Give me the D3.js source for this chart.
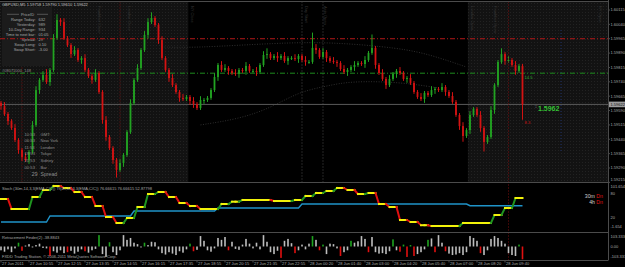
<!DOCTYPE html>
<html>
<head>
<meta charset="utf-8">
<script src="https://cdn.jsdelivr.net/npm/d3@7"></script>
<style>
  html, body { margin: 0; padding: 0; background: #000; }
  svg { display: block; }
  text { font-family: "Liberation Sans", Arial, sans-serif; }
</style>
</head>
<body>
<svg id="chart"></svg>
<script>
// ---- data (prices in pips above 1.5900, one bar per slot) ----
const titleText = "GBPUSD,M5  1.59758 1.59790 1.59610 1.59622";
const firstOpen = 63.0;
const closes = [
  61.4, 57.2, 53.5, 49.9, 43.6, 38.4, 34.7, 33.2, 37.4, 51.5,
  69.7, 75.0, 77.6, 73.9, 80.2, 96.9, 106.3, 105.2, 96.9, 93.2,
  88.5, 90.6, 85.4, 86.4, 80.2, 77.0, 75.0, 78.6, 68.7, 54.1,
  45.2, 39.4, 33.2, 28.0, 31.6, 35.8, 47.8, 62.9, 75.0, 81.2,
  90.6, 98.5, 105.2, 107.3, 103.7, 95.8, 86.4, 80.2, 76.0, 72.3,
  68.7, 65.6, 65.0, 66.1, 64.0, 62.4, 60.3, 64.5, 64.5, 65.6,
  69.7, 76.5, 82.8, 80.2, 81.2, 79.7, 78.6, 78.1, 80.2, 79.7,
  82.3, 79.7, 79.7, 79.1, 82.8, 88.0, 88.5, 86.4, 87.5, 86.4,
  87.5, 84.9, 86.4, 86.4, 85.9, 87.5, 85.4, 84.4, 84.4, 91.7,
  90.6, 87.0, 89.6, 86.4, 84.9, 84.4, 83.8, 80.7, 79.1, 80.2,
  81.7, 82.8, 83.8, 83.3, 85.4, 89.1, 91.7, 82.8, 78.6, 75.5,
  72.3, 75.5, 78.1, 79.7, 78.6, 75.5, 76.0, 73.4, 68.7, 66.1,
  65.0, 68.2, 67.1, 69.7, 70.3, 69.7, 71.3, 68.7, 66.6, 63.5,
  56.7, 50.9, 45.7, 48.8, 56.7, 59.8, 56.7, 49.9, 42.6, 45.2,
  59.3, 72.3, 84.4, 88.5, 84.9, 85.4, 82.8, 79.7, 82.3, 62.2
];
const wickUp = [
  1,2,1,1,2,1,1,2,1,2, 2,1,2,3,1,2,3,1,2,1, 1,2,1,1,2,1,1,2,1,1,
  2,1,1,1,2,1,1,2,1,2, 1,2,2,3,1,1,2,1,1,2, 1,1,2,1,1,2,1,2,1,1,
  1,2,1,2,2,1,1,2,1,1, 2,1,1,2,1,2,3,1,1,2, 1,2,1,1,2,1,1,2,1,8,
  2,1,2,1,1,2,1,1,2,1, 1,2,1,1,2,1,7,1,1,2, 1,2,1,1,2,1,1,2,1,1,
  2,1,1,2,1,1,2,1,1,2, 1,1,2,1,2,1,1,2,1,1, 2,1,1,3,1,2,1,2,1,1
];
const wickDn = [
  2,1,2,1,1,2,2,1,2,1, 1,2,1,1,2,1,1,2,1,1, 2,1,1,2,1,1,2,1,1,2,
  2,1,2,4,1,2,1,1,1,1, 1,1,2,1,1,2,1,1,2,1, 1,2,1,1,2,2,1,1,2,1,
  1,1,2,1,1,2,1,1,2,1, 2,1,1,2,1,1,2,1,1,2, 1,1,2,1,1,2,1,2,1,1,
  2,1,1,2,1,1,2,1,1,2, 1,2,1,1,2,1,1,2,1,1, 2,1,1,2,1,1,2,1,1,1,
  1,2,1,1,2,1,1,2,1,1, 1,2,3,1,2,1,1,2,5,1, 1,2,1,1,2,1,1,2,1,8
];

// horizontal levels
const resistance = 1.59965;
const pivotLevel = 1.59785;
const lastPrice = 1.59622;
const priceTicks = [1.60115, 1.60040, 1.59965, 1.59890, 1.59815, 1.59740, 1.59665,
                    1.59590, 1.59515, 1.59440, 1.59365, 1.59290, 1.59215];

// faint envelope curves [bar, pips]
const envUpper = [[46, 92.2], [55, 91.7], [79, 94.3], [94, 94.8], [114, 91.7], [123, 88.0], [133, 81.7]];
const envLower = [[57, 51.5], [68, 54.6], [77, 60.3], [85, 68.7], [93, 71.8], [100, 74.4], [114, 73.9], [125, 70.8]];

// session shading (bar ranges) and markers (bar index)
const sessions = [[-0.3, 53.5], [133.4, 173.5]];
const redMarks = [6, 34, 145];
const grayMarks = [86, 92];
const blueMarks = [160];
const sessionNames = [[27.4, "Frankfurt Close"], [36, "London Close"], [54, "NY Close"],
                      [86.3, "Day Start"], [92, "Asia Open"], [134, "London Open"],
                      [140.3, "Frankfurt Open"], [170.3, "NY Open"]];

// info panel
const infoLabels = ["Range  Today:", "Yesterday:", "10-Day Range:", "Time to next bar:", "Spread:", "Swap  Long:", "Swap  Short:"];
const infoValues = ["632", "989", "934", "01:05", "29", "0.10", "-3.00"];
const clockTimes = ["10:53", "06:53", "11:53", "19:53", "20:53", "00:53"];
const clockNames = ["GMT:", "New York", "London", "Tokyo", "Sidney", "Bar"];

// stochastic: 30m values (one per 3 bars), 4h values [value, bars]
const stoch30 = [67.5, 42.5, 42.5, 72.5, 90, 100, 95, 85, 72.5, 50,
                 22.5, 7.5, 20, 47.5, 80, 85, 72.5, 57.5, 50, 42.5,
                 42.5, 55, 60.75, 65, 65, 65, 62.5, 62.5, 65, 75,
                 82.5, 87.5, 95, 90, 80, 82.5, 55, 47.5, 15, 10,
                 2, 0, 0, 0, 7.5, 7.5, 7.5, 27.5, 45, 70];
const stoch4h = [[10, 14], [25, 24], [37.5, 24], [45, 24], [55, 48], [50.75, 16]];
const stochTicks = [["101.654", 101.654], ["80", 80], ["20", 20], ["-1.654", -1.654]];

// retracement histogram
const histValues = [
  -40, -55, -30, -60, -20, 40, -45, 10, 25, -10,
  15, 30, -15, -20, -100, -50, -65, -40, -70, -60,
  -45, -75, -55, -30, -50, -65, -40, -25, 120, -80,
  -110, 45, -60, -90, -40, 120, 70, 90, 40, 25,
  -10, 40, 15, 50, 45, -30, -70, -85, -60, -75,
  -90, -50, -65, -30, 30, -50, -35, 110, 60, -40,
  -55, -20, 90, 70, 100, -40, 50, -25, -35, 20,
  80, 30, -20, 40, -30, 120, 50, -60, -80, -45,
  -120, 60, 80, 35, -70, -40, 20, -30, 30, 110,
  70, -40, 20, -80, 30, 25, -20, -100, -60, -40,
  60, 40, 55, 110, 80, -60, 100, -60, -75, -70,
  -80, -50, 75, -40, -55, 20, -110, 15, -100, -80,
  -60, -30, 70, 85, -60, 120, 40, -50, -75, -90,
  -85, -70, -90, -60, 110, 90, 60, -70, -90, -40,
  80, 110, 90, 60, 30, -70, -90, -100, 20, -135
];
const histColors =
  ".....gr..." + "....r....r" + "....r...g." + ".g........" + ".g........" +
  "....gr...." + ".....r...." + ".........." + "r...r....g" + ".rg....r.." +
  "g....r...." + "..g.rgrgr." + "..g.r..r.." + ".......r.." + "........gr";
const histTicks = [["103.333", 103.333], ["0.00", 0], ["-103.333", -103.333]];

// time axis
const timeLabels = ["27 Jun 2011", "27 Jun 10:55", "27 Jun 12:15", "27 Jun 13:35", "27 Jun 14:55",
  "27 Jun 16:15", "27 Jun 17:35", "27 Jun 18:55", "27 Jun 20:15", "27 Jun 21:35", "27 Jun 22:55",
  "28 Jun 00:20", "28 Jun 01:40", "28 Jun 03:00", "28 Jun 04:20", "28 Jun 05:40", "28 Jun 07:00",
  "28 Jun 08:20", "28 Jun 09:40"];
const barsPerLabel = 8;

// ---- drawing ----
const W = 625, H = 267, axisX = 608;
const mainTop = 1.5, mainBottom = 182.5, stochTop = 183.5, stochBottom = 232.5, histBottom = 260.5;
const gridColor = "#4b4b4b", textColor = "#a8a8a8";
const upColor = "#22a322", downColor = "#d41313";

const svg = d3.select("#chart").attr("width", W).attr("height", H);
svg.append("rect").attr("width", W).attr("height", H).attr("fill", "#000");

const defs = svg.append("defs");
const pat = defs.append("pattern").attr("id", "dots").attr("width", 3).attr("height", 3)
  .attr("patternUnits", "userSpaceOnUse");
pat.append("rect").attr("width", 3).attr("height", 3).attr("fill", "#121212");
pat.append("rect").attr("width", 1).attr("height", 1).attr("fill", "#222");
defs.append("clipPath").attr("id", "clipMain").append("rect")
  .attr("x", 0).attr("y", mainTop).attr("width", axisX).attr("height", mainBottom - mainTop);

const nBars = closes.length;
const x = d3.scaleLinear().domain([0, 173.43]).range([1, axisX]);
const toPrice = p => 1.59 + p / 10000;
const y = d3.scaleLinear().domain([1.59290, 1.60115]).range([168, 10]);
const yS = d3.scaleLinear().domain([20, 80]).range([218, 194]);
const yH = d3.scaleLinear().domain([0, 103.333]).range([246.5, 236.7]);

const main = svg.append("g").attr("clip-path", "url(#clipMain)");

// session shading
main.selectAll("rect.session").data(sessions).join("rect")
  .attr("x", d => x(d[0])).attr("y", mainTop)
  .attr("width", d => x(d[1]) - x(d[0])).attr("height", mainBottom - mainTop)
  .attr("fill", "url(#dots)");

// faint rotated session names
main.selectAll("text.sess").data(sessionNames).join("text")
  .attr("transform", d => `translate(${x(d[0]) + 1.5},${6}) rotate(90)`)
  .attr("font-size", 4).attr("fill", "#343434").text(d => d[1]);

// vertical markers
main.selectAll("line.gm").data(grayMarks).join("line")
  .attr("x1", d => x(d)).attr("x2", d => x(d)).attr("y1", mainTop).attr("y2", mainBottom)
  .attr("stroke", "#4a4a4a").attr("stroke-dasharray", "1,2");
main.selectAll("line.rm").data(redMarks.slice(0, 2)).join("line")
  .attr("x1", d => x(d)).attr("x2", d => x(d)).attr("y1", mainTop).attr("y2", mainBottom)
  .attr("stroke", "#7a1010").attr("stroke-dasharray", "1,2");
main.selectAll("line.bm").data(blueMarks).join("line")
  .attr("x1", d => x(d)).attr("x2", d => x(d)).attr("y1", 30).attr("y2", 152)
  .attr("stroke", "#1c2f66").attr("stroke-dasharray", "1,2");

// envelope curves
const envLine = d3.line().x(d => x(d[0])).y(d => y(toPrice(d[1]))).curve(d3.curveBasis);
[envUpper, envLower].forEach(env => {
  main.append("path").attr("d", envLine(env)).attr("fill", "none")
    .attr("stroke", "#2e2e2e").attr("stroke-dasharray", "1,1.5");
});

// info box
main.append("rect").attr("x", 2).attr("y", 7).attr("width", 50).attr("height", 59).attr("fill", "#1b1b1b");
main.append("text").attr("x", 27.5).attr("y", 15.5).attr("text-anchor", "middle")
  .attr("font-size", 4).attr("fill", textColor).text("PriceID");
[[7, 19], [37, 48]].forEach(s => main.append("line").attr("x1", s[0]).attr("x2", s[1])
  .attr("y1", 14.3).attr("y2", 14.3).attr("stroke", "#8a8a8a").attr("stroke-width", 0.5));
infoLabels.forEach((t, i) => {
  const yy = 20.8 + i * 5.05;
  main.append("text").attr("x", 35.5).attr("y", yy).attr("text-anchor", "end")
    .attr("font-size", 4).attr("fill", textColor).text(t);
  main.append("text").attr("x", 38.5).attr("y", yy)
    .attr("font-size", 4).attr("fill", textColor).text(infoValues[i]);
});

// horizontal levels
main.append("line").attr("x1", 0).attr("x2", axisX).attr("y1", y(resistance)).attr("y2", y(resistance))
  .attr("stroke", "#b01818").attr("stroke-dasharray", "5,2,1,2");
main.append("line").attr("x1", 0).attr("x2", axisX).attr("y1", y(pivotLevel)).attr("y2", y(pivotLevel))
  .attr("stroke", "#1d8a1d").attr("stroke-dasharray", "5,2,1,2");
main.append("text").attr("x", 2).attr("y", y(pivotLevel) - 1.5).attr("font-size", 4)
  .attr("fill", "#8a8a8a").text("#08071000_148");
main.append("line").attr("x1", 0).attr("x2", axisX).attr("y1", y(lastPrice)).attr("y2", y(lastPrice))
  .attr("stroke", "#5a5a5a").attr("stroke-width", 1);

// candles
const candles = closes.map((c, i) => {
  const o = i === 0 ? firstOpen : closes[i - 1];
  return { i, o, c, h: Math.max(o, c) + wickUp[i], l: Math.min(o, c) - wickDn[i] };
});
const cg = main.selectAll("g.candle").data(candles).join("g");
cg.append("line")
  .attr("x1", d => x(d.i)).attr("x2", d => x(d.i))
  .attr("y1", d => y(toPrice(d.h))).attr("y2", d => y(toPrice(d.l)))
  .attr("stroke", d => d.c >= d.o ? upColor : downColor).attr("stroke-width", 1);
cg.append("rect")
  .attr("x", d => x(d.i) - 0.9).attr("width", 1.8)
  .attr("y", d => y(toPrice(Math.max(d.o, d.c))))
  .attr("height", d => Math.max(1, y(toPrice(Math.min(d.o, d.c))) - y(toPrice(Math.max(d.o, d.c)))))
  .attr("fill", d => d.c >= d.o ? upColor : downColor);

// right side labels in the chart
main.append("text").attr("x", x(nBars - 1) + 2).attr("y", y(toPrice(76.0)) + 1.5)
  .attr("font-size", 4.2).attr("fill", "#2fa82f").text("14.5");
main.append("text").attr("x", x(nBars - 1) + 2).attr("y", y(toPrice(53.0)) + 1.5)
  .attr("font-size", 4.2).attr("fill", "#c81414").text("8.3");
main.append("text").attr("x", 538).attr("y", y(lastPrice) + 6.5)
  .attr("font-size", 7).attr("font-weight", "bold").attr("fill", "#35c035").text("1.5962");
main.append("text").attr("x", 535).attr("y", y(lastPrice) + 4)
  .attr("font-size", 3.5).attr("fill", "#777").text("‡");

// session clock
clockTimes.forEach((t, i) => {
  const yy = 135.5 + i * 6.65;
  main.append("text").attr("x", 24.5).attr("y", yy).attr("font-size", 4.2).attr("fill", "#8c8c8c").text(t);
  main.append("text").attr("x", 40.5).attr("y", yy).attr("font-size", 4.2).attr("fill", "#8c8c8c").text(clockNames[i]);
});
main.append("text").attr("x", 31.5).attr("y", 176.2).attr("font-size", 5.6).attr("fill", "#8c8c8c").text("29");
main.append("text").attr("x", 40.5).attr("y", 176.2).attr("font-size", 5.2).attr("fill", "#8c8c8c").text("Spread");

// red marker through all panels
svg.selectAll("line.rmAll").data(redMarks.slice(2)).join("line")
  .attr("x1", d => x(d)).attr("x2", d => x(d)).attr("y1", mainTop).attr("y2", histBottom)
  .attr("stroke", "#7a1010").attr("stroke-dasharray", "1,2");

// title
svg.append("text").attr("x", 2).attr("y", 6).attr("font-size", 4).attr("fill", "#c8c8c8").text(titleText);

// ---- stochastic panel ----
const st30 = d3.range(nBars).map(i => stoch30[Math.floor(i / 3)]);
const st4h = stoch4h.flatMap(d => d3.range(d[1]).map(() => d[0]));
svg.append("path")
  .attr("d", d3.line().x((d, i) => x(i)).y(d => yS(d))(st4h))
  .attr("fill", "none").attr("stroke", "#1f93c8").attr("stroke-width", 1.4);
const segs = d3.range(1, nBars).map(i => ({ i, a: st30[i - 1], b: st30[i] }));
svg.selectAll("line.st").data(segs).join("line")
  .attr("x1", d => x(d.i - 1)).attr("x2", d => x(d.i))
  .attr("y1", d => yS(d.a)).attr("y2", d => yS(d.b))
  .attr("stroke", d => d.b > d.a ? "#1f951f" : d.b < d.a ? "#e01010" : "#f2f20a")
  .attr("stroke-width", 2).attr("stroke-linecap", "square");
svg.append("text").attr("x", 2).attr("y", 190).attr("font-size", 4).attr("fill", textColor)
  .text("Stoch (30m,14,3,3(EMA,C/C)) Tf(4h,14,3,3(EMA,C/C)) 76.66615 76.66615 52.87798");
const dirText = svg.append("g").attr("font-size", 5.2).attr("text-anchor", "end");
[["30m", 198], ["4h", 204]].forEach(d => {
  const t = dirText.append("text").attr("x", 603).attr("y", d[1]);
  t.append("tspan").attr("fill", "#d0d0d0").text(d[0] + " ");
  t.append("tspan").attr("fill", "#e01010").text("Dn");
});

// ---- histogram panel ----
svg.selectAll("rect.hist").data(histValues).join("rect")
  .attr("x", (d, i) => x(i) - 0.8).attr("width", 1.6)
  .attr("y", d => Math.min(yH(d), yH(0))).attr("height", d => Math.abs(yH(d) - yH(0)))
  .attr("fill", (d, i) => histColors[i] === "g" ? "#1fa31f" : histColors[i] === "r" ? "#e01010" : "#bdbdbd");
svg.append("text").attr("x", 2).attr("y", 238.5).attr("font-size", 4).attr("fill", textColor)
  .text("Retracement Finder(2) -38.8843");
svg.append("text").attr("x", 2).attr("y", 257.5).attr("font-size", 4).attr("fill", textColor)
  .text("FXDD Trading Station, © 2006-2011 MetaQuotes Software Corp.");

// ---- frame and axes ----
const frame = svg.append("g").attr("stroke", gridColor).attr("stroke-width", 1);
[mainTop, mainBottom, stochBottom, histBottom].forEach(v =>
  frame.append("line").attr("x1", 0).attr("x2", axisX).attr("y1", v).attr("y2", v));
frame.append("line").attr("x1", axisX + 0.5).attr("x2", axisX + 0.5).attr("y1", 0).attr("y2", histBottom);

// labels are kept inside their own panel
const axisLabels = svg.append("g").attr("font-size", 4).attr("fill", textColor);
priceTicks.forEach(p => {
  axisLabels.append("text").attr("x", 610.5).attr("y", Math.min(y(p), mainBottom - 2.6))
    .attr("dy", "0.35em").text(p.toFixed(5));
  frame.append("line").attr("x1", axisX).attr("x2", axisX + 2).attr("y1", y(p)).attr("y2", y(p));
});
svg.append("rect").attr("x", 609).attr("y", y(lastPrice) - 2.8).attr("width", 16).attr("height", 5.6).attr("fill", "#9c9c9c");
svg.append("text").attr("x", 610.5).attr("y", y(lastPrice)).attr("dy", "0.35em")
  .attr("font-size", 4).attr("fill", "#111").text(lastPrice.toFixed(5));
stochTicks.forEach(d => axisLabels.append("text").attr("x", 610.5)
  .attr("y", Math.max(yS(d[1]), stochTop + 3.4)).attr("dy", "0.35em").text(d[0]));
histTicks.forEach(d => axisLabels.append("text").attr("x", 610.5).attr("y", yH(d[1])).attr("dy", "0.35em").text(d[0]));

timeLabels.forEach((t, k) => {
  const xi = x(k * barsPerLabel);
  frame.append("line").attr("x1", xi).attr("x2", xi).attr("y1", histBottom).attr("y2", histBottom + 2);
  axisLabels.append("text").attr("x", xi + 1).attr("y", 265).attr("font-size", 4).text(t);
});
</script>
</body>
</html>
